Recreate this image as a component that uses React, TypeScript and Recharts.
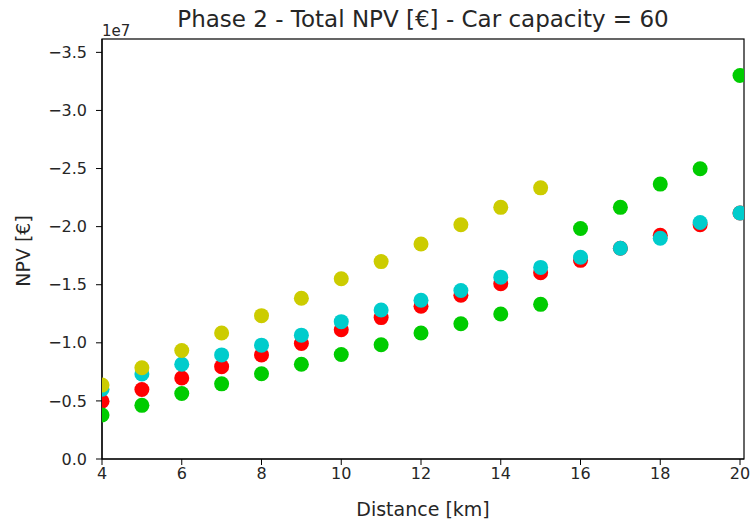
import { ScatterChart, Scatter, XAxis, YAxis, ReferenceArea } from "recharts";

// distance in km, NPV values in units of 1e7 €
const distanceKm = [4, 5, 6, 7, 8, 9, 10, 11, 12, 13, 14, 15, 16, 17, 18, 19, 20];
const yellowDistanceKm = [4, 5, 6, 7, 8, 9, 10, 11, 12, 13, 14, 15];

const npvRed = [-0.497, -0.598, -0.697, -0.795, -0.896, -0.994, -1.113, -1.217, -1.315, -1.409, -1.508, -1.603, -1.71, -1.814, -1.926, -2.016, -2.117];
const npvCyan = [-0.6, -0.731, -0.815, -0.896, -0.98, -1.066, -1.182, -1.283, -1.367, -1.45, -1.565, -1.649, -1.736, -1.814, -1.9, -2.036, -2.117];
const npvGreen = [-0.379, -0.462, -0.564, -0.647, -0.734, -0.815, -0.899, -0.983, -1.084, -1.164, -1.248, -1.331, -1.984, -2.166, -2.366, -2.498, -3.301];
const npvYellow = [-0.636, -0.786, -0.934, -1.084, -1.234, -1.384, -1.552, -1.699, -1.85, -2.016, -2.166, -2.334];

const xTicks = [4, 6, 8, 10, 12, 14, 16, 18, 20];
const yTicks = [0, -0.5, -1, -1.5, -2, -2.5, -3, -3.5];
const X_MIN = 4;
const X_MAX = 20.1;
const Y_TOP = -3.615;

const toPoints = (xs: number[], ys: number[]) => xs.map((x, i) => ({ distance: x, npv: ys[i] }));

const series = [
  { name: "red", color: "#ff0000", data: toPoints(distanceKm, npvRed) },
  { name: "green", color: "#00cc00", data: toPoints(distanceKm, npvGreen) },
  { name: "cyan", color: "#00cccc", data: toPoints(distanceKm, npvCyan) },
  { name: "yellow", color: "#cccc00", data: toPoints(yellowDistanceKm, npvYellow) },
];

const fmt = (v: number) => (v < 0 ? "\u2212" : "") + Math.abs(v).toFixed(1);

const font = "DejaVu Sans";
const textColor = "#262626";

// frame of the axes; also defines the clip region used by the dots
function PlotFrame(props: any) {
  const { x, y, width, height } = props;
  return (
    <g>
      <defs>
        <clipPath id="plot-clip">
          <rect x={x} y={y} width={width} height={height} />
        </clipPath>
      </defs>
      <rect x={x} y={y} width={width} height={height} fill="none" stroke="#000" strokeWidth={1.2} />
    </g>
  );
}

function Dot(props: any) {
  const { cx, cy, fill } = props;
  return <circle cx={cx} cy={cy} r={7.5} fill={fill} clipPath="url(#plot-clip)" />;
}

export default function App() {
  return (
    <div style={{ position: "absolute", left: 0, top: 0, width: 754, height: 525, background: "#fff", fontFamily: font }}>
      <ScatterChart width={754} height={525} margin={{ top: 39, right: 10, bottom: 0, left: 0 }}>
        <XAxis
          type="number"
          dataKey="distance"
          domain={[X_MIN, X_MAX]}
          ticks={xTicks}
          allowDataOverflow
          height={66}
          tickSize={6}
          tickMargin={3}
          axisLine={{ stroke: "#000", strokeWidth: 1.2 }}
          tickLine={{ stroke: "#000" }}
          tick={{ fill: textColor, fontSize: 16, fontFamily: font }}
        />
        <YAxis
          type="number"
          dataKey="npv"
          domain={[Y_TOP, 0]}
          reversed
          ticks={yTicks}
          allowDataOverflow
          width={102}
          tickSize={6}
          tickMargin={9}
          tickFormatter={fmt}
          axisLine={{ stroke: "#000", strokeWidth: 1.2 }}
          tickLine={{ stroke: "#000" }}
          tick={{ fill: textColor, fontSize: 16, fontFamily: font }}
        />
        <ReferenceArea x1={X_MIN} x2={X_MAX} y1={Y_TOP} y2={0} ifOverflow="visible" shape={<PlotFrame />} />
        {series.map((s) => (
          <Scatter key={s.name} data={s.data} fill={s.color} shape={<Dot />} isAnimationActive={false} />
        ))}
      </ScatterChart>
      <svg width={754} height={525} style={{ position: "absolute", left: 0, top: 0, pointerEvents: "none" }}>
        <text x={423} y={27} textAnchor="middle" fontSize={23} fill={textColor} fontFamily={font}>
          Phase 2 - Total NPV [€] - Car capacity = 60
        </text>
        <text x={102} y={36} fontSize={15} fill={textColor} fontFamily={font}>1e7</text>
        <text x={423} y={516} textAnchor="middle" fontSize={19} fill={textColor} fontFamily={font}>Distance [km]</text>
        <text
          x={23}
          y={251}
          textAnchor="middle"
          dominantBaseline="central"
          fontSize={19}
          fill={textColor}
          fontFamily={font}
          transform="rotate(-90 23 251)"
        >
          NPV [€]
        </text>
      </svg>
    </div>
  );
}
